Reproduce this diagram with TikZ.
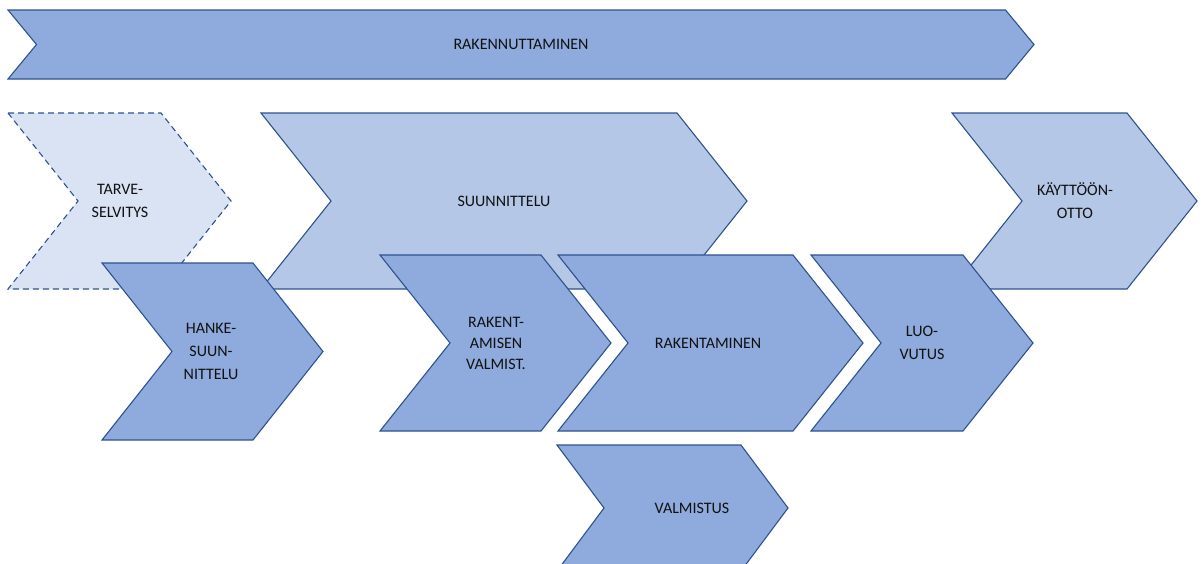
\documentclass[tikz,border=0pt]{standalone}
\usepackage{fontspec}
\setmainfont{Carlito}
\definecolor{edge}{HTML}{2F528F}
\definecolor{fillmid}{HTML}{8FAADC}
\definecolor{filllight}{HTML}{B4C7E7}
\definecolor{fillpale}{HTML}{DAE3F3}
\definecolor{txt}{HTML}{111111}
\tikzset{
  chev/.style={draw=edge, line width=1.1pt, line join=miter},
  midchev/.style={chev, fill=fillmid},
  lightchev/.style={chev, fill=filllight},
  palechev/.style={chev, fill=fillpale, dash pattern=on 6pt off 4pt},
  lbl/.style={text=txt, align=center, inner sep=0pt, font=\fontsize{16}{23}\selectfont},
  lbltight/.style={lbl, font=\fontsize{16}{21}\selectfont}
}
\begin{document}
\begin{tikzpicture}[x=1pt,y=-1pt]
\useasboundingbox (0,0) rectangle (1201,563);
\clip (0,0) rectangle (1201,563);
% top band
\path[midchev] (8,10)--(1005.5,10)--(1034,44.5)--(1005.5,79)--(8,79)--(36.5,44.5)--cycle;
% second row
\path[palechev] (8,113)--(161,113)--(231,201)--(161,289)--(8,289)--(78,201)--cycle;
\path[lightchev] (261,113)--(677,113)--(747,201)--(677,289)--(261,289)--(331,201)--cycle;
\path[lightchev] (952,113)--(1127,113)--(1197,201)--(1127,289)--(952,289)--(1022,201)--cycle;
% third row
\path[midchev] (102,263)--(253,263)--(323,351.5)--(253,440)--(102,440)--(172,351.5)--cycle;
\path[midchev] (380,255)--(541,255)--(611,343)--(541,431)--(380,431)--(450,343)--cycle;
\path[midchev] (558,255)--(793,255)--(863,343)--(793,431)--(558,431)--(628,343)--cycle;
\path[midchev] (811,255)--(963,255)--(1033,343)--(963,431)--(811,431)--(881,343)--cycle;
% bottom
\path[midchev] (557,445)--(741,445)--(788,508)--(741,571)--(557,571)--(604,508)--cycle;
% labels
\node[lbl] (rakennuttaminen) at (521,44.5) {RAKENNUTTAMINEN};
\node[lbl] (tarve) at (120,201) {TARVE-\\SELVITYS};
\node[lbl] (suunnittelu) at (504,201) {SUUNNITTELU};
\node[lbl] (kayttoonotto) at (1075,201) {KÄYTTÖÖN-\\OTTO};
\node[lbl] (hanke) at (211,351.5) {HANKE-\\SUUN-\\NITTELU};
\node[lbltight] (rakent) at (496,343) {RAKENT-\\AMISEN\\VALMIST.};
\node[lbl] (rakentaminen) at (708,343) {RAKENTAMINEN};
\node[lbl] (luovutus) at (922,343) {LUO-\\VUTUS};
\node[lbl] (valmistus) at (692,508) {VALMISTUS};
\end{tikzpicture}
\end{document}
